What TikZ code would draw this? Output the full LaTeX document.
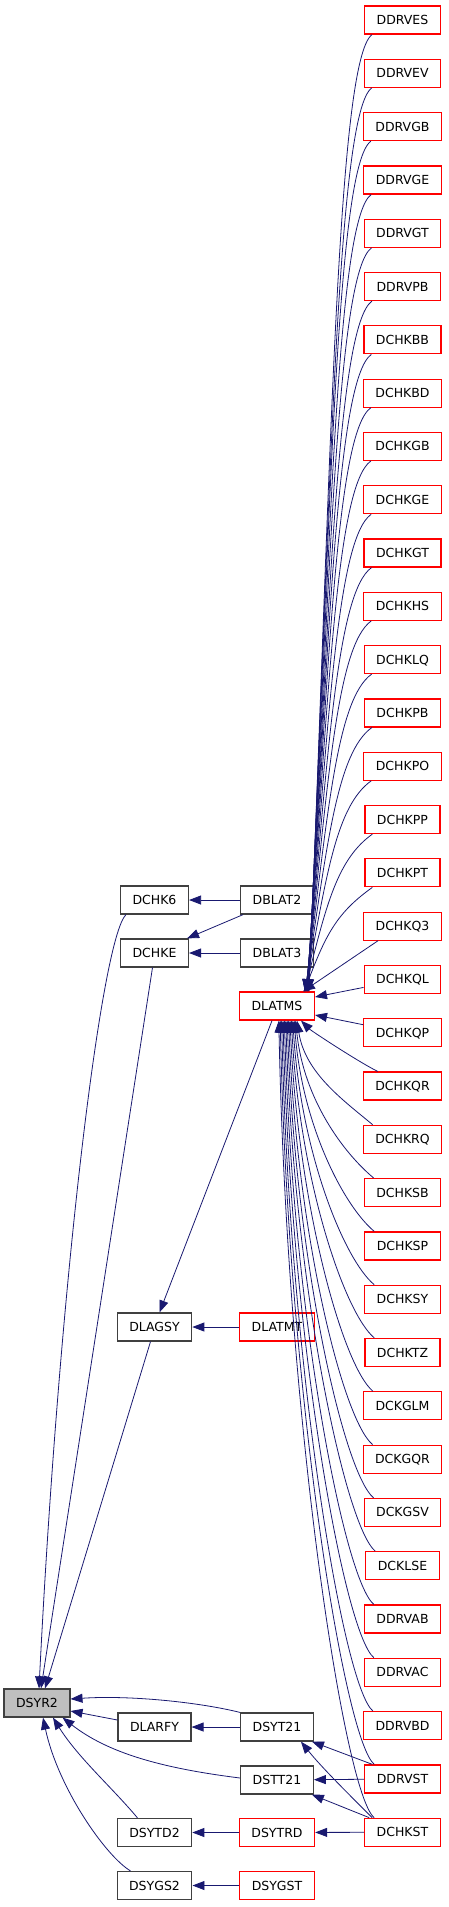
\documentclass[tikz,border=0pt]{standalone}
\usepackage{fontspec}
\setmainfont{DejaVu Sans}
\usetikzlibrary{arrows.meta,calc}
\definecolor{edgeblue}{HTML}{191970}
\definecolor{boxgray}{HTML}{404040}
\definecolor{rootfill}{HTML}{BFBFBF}

\begin{document}
\begin{tikzpicture}[
    x=1pt, y=-1pt, font=\fontsize{12.5}{15}\selectfont,
    box/.style={draw, line width=1.2pt, inner xsep=12pt, inner ysep=0pt, minimum height=28pt, text height=9.1pt, text depth=0pt, fill=white},
    plain/.style={box, draw=boxgray},
    root/.style={box, draw=boxgray, fill=rootfill},
    ext/.style={box, draw=red},
    link/.style={-{Triangle[length=12pt,width=9pt]}, draw=edgeblue, line width=0.8pt},
  ]
  \useasboundingbox (0,0) rectangle (448,1907);

  % callers of DLATMS, one column
  \foreach \n [count=\i from 0] in {DDRVES,DDRVEV,DDRVGB,DDRVGE,DDRVGT,DDRVPB,DCHKBB,DCHKBD,DCHKGB,DCHKGE,DCHKGT,DCHKHS,DCHKLQ,DCHKPB,DCHKPO,DCHKPP,DCHKPT,DCHKQ3,DCHKQL,DCHKQP,DCHKQR,DCHKRQ,DCHKSB,DCHKSP,DCHKSY,DCHKTZ,DCKGLM,DCKGQR,DCKGSV,DCKLSE,DDRVAB,DDRVAC,DDRVBD,DDRVST,DCHKST}
    \node[ext] (\n) at (402.5,{20+53.3*\i}) {\n};

  \node[root] (DSYR2) at (37,1703) {DSYR2};
  \node[plain] (DCHK6) at (154.5,900) {DCHK6};
  \node[plain] (DCHKE) at (154.5,953) {DCHKE};
  \node[plain] (DLAGSY) at (154.5,1327) {DLAGSY};
  \node[plain] (DLARFY) at (154.5,1727) {DLARFY};
  \node[plain] (DSYTD2) at (154.5,1832.5) {DSYTD2};
  \node[plain] (DSYGS2) at (154.5,1885.5) {DSYGS2};
  \node[plain] (DBLAT2) at (277,900) {DBLAT2};
  \node[plain] (DBLAT3) at (277,953) {DBLAT3};
  \node[ext] (DLATMS) at (277,1006) {DLATMS};
  \node[ext] (DLATMT) at (277,1327) {DLATMT};
  \node[plain] (DSYT21) at (277,1727) {DSYT21};
  \node[plain] (DSTT21) at (277,1780) {DSTT21};
  \node[ext] (DSYTRD) at (277,1832.5) {DSYTRD};
  \node[ext] (DSYGST) at (277,1885.5) {DSYGST};

  % into DSYR2
  \draw[link] ($(DCHK6.south west)+(6,0)$) .. controls +(-25,25) and +(20,-400) .. ($(DSYR2.north)+(2,0)$);
  \draw[link] ($(DCHKE.south)+(-2,0)$) -- ($(DSYR2.north)+(4,0)$);
  \draw[link] ($(DLAGSY.south)+(-4,0)$) -- ($(DSYR2.north)+(8,0)$);
  \draw[link] (DSYT21.north west) .. controls +(-40,-10) and +(60,-4) .. ($(DSYR2.east)+(0,-4)$);
  \draw[link] ($(DLARFY.west)+(0,-7)$) -- ($(DSYR2.east)+(0,8)$);
  \draw[link] ($(DSTT21.west)+(0,-2)$) .. controls +(-80,-10) and +(45,35) .. ($(DSYR2.south east)+(-8,0)$);
  \draw[link] ($(DSYTD2.north)+(-17,0)$) .. controls +(-25,-30) and +(25,40) .. ($(DSYR2.south)+(16,0)$);
  \draw[link] ($(DSYGS2.north)+(-24,0)$) .. controls +(-25,-15) and +(15,70) .. ($(DSYR2.south)+(6,0)$);

  % middle column
  \draw[link] (DBLAT2) -- (DCHK6);
  \draw[link] ($(DBLAT2.south west)+(3,0)$) -- ($(DCHKE.north east)+(-2,0)$);
  \draw[link] (DBLAT3) -- (DCHKE);
  \draw[link] ($(DLATMS.south)+(-5,0)$) -- ($(DLAGSY.north)+(5,0)$);
  \draw[link] (DLATMT) -- (DLAGSY);
  \draw[link] (DSYT21) -- (DLARFY);
  \draw[link] (DSYTRD) -- (DSYTD2);
  \draw[link] (DSYGST) -- (DSYGS2);
  \draw[link] (DDRVST) -- (DSTT21);
  \draw[link] (DCHKST) -- (DSYTRD);
  \draw[link] ($(DDRVST.north west)+(8,0)$) -- ($(DSYT21.south east)+(-2,0)$);
  \draw[link] ($(DCHKST.north west)+(5,0)$) -- ($(DSTT21.south east)+(-2,0)$);
  \draw[link] ($(DCHKST.north west)+(8,0)$) .. controls +(-25,-25) and +(20,25) .. ($(DSYT21.south east)+(-13,0)$);

  % fan into DLATMS
  \foreach \n [count=\i from 0] in {DDRVES,DDRVEV,DDRVGB,DDRVGE,DDRVGT,DDRVPB,DCHKBB,DCHKBD,DCHKGB,DCHKGE,DCHKGT,DCHKHS,DCHKLQ,DCHKPB,DCHKPO,DCHKPP,DCHKPT} {
    \pgfmathsetmacro\dy{978-(20+53.3*\i)}
    \draw[link] ($(\n.south west)+(8,0)$) .. controls +(-35,25) and +(22,{-0.55*\dy}) .. ($(DLATMS.north east)+({-6-0.3*\i},0)$);
  }
  \draw[link] ($(DCHKQ3.south west)+(15,0)$) -- ($(DLATMS.north east)+(-12,0)$);
  \draw[link] ($(DCHKQL.west)+(0,8)$) -- ($(DLATMS.east)+(0,-9)$);
  \draw[link] ($(DCHKQP.west)+(0,-8)$) -- ($(DLATMS.east)+(0,9)$);
  \draw[link] ($(DCHKQR.north west)+(15,0)$) .. controls +(-20,-10) and +(10,10) .. ($(DLATMS.south east)+(-14,0)$);
  \foreach \n [count=\i from 21] in {DCHKRQ,DCHKSB,DCHKSP,DCHKSY,DCHKTZ,DCKGLM,DCKGQR,DCKGSV,DCKLSE,DDRVAB,DDRVAC,DDRVBD,DDRVST,DCHKST} {
    \pgfmathsetmacro\dy{20+53.3*\i-14-1021}
    \draw[link] ($(\n.north west)+(10,0)$) .. controls +(-30,-25) and +(8,{0.5*\dy}) .. ($(DLATMS.south)+({20-1.4*(\i-21)},0)$);
  }
\end{tikzpicture}
\end{document}
